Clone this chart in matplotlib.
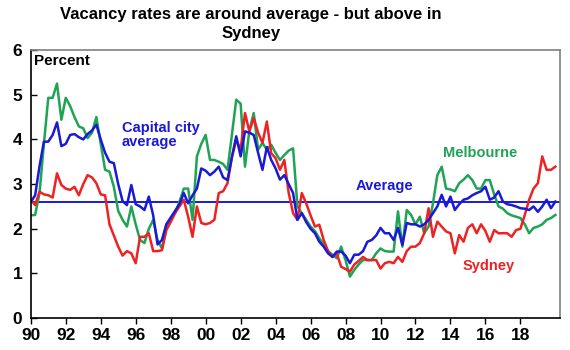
import numpy as np
import matplotlib
matplotlib.use('Agg')
import matplotlib.pyplot as plt

plt.rcParams['font.family'] = ['Liberation Sans', 'DejaVu Sans']

# quarterly, 1990 Q1 .. 2020 Q1
quarters = np.arange(1990, 2020.01, 0.25)

capital_avg = [
    2.60, 2.75, 3.40, 3.95, 3.95, 4.10, 4.38, 3.85, 3.90, 4.10, 4.12, 4.05,
    4.00, 4.12, 4.20, 4.33, 4.00, 3.70, 3.50, 3.47, 3.00, 2.62, 2.53, 2.98,
    2.55, 2.50, 2.42, 2.72, 2.30, 1.65, 1.75, 2.10, 2.25, 2.40, 2.55, 2.80,
    2.57, 2.75, 2.90, 3.35, 3.30, 3.20, 3.28, 3.39, 3.15, 3.09, 3.60, 4.07,
    3.62, 4.18, 4.15, 4.10, 3.70, 3.32, 3.83, 3.54, 3.35, 3.10, 3.20, 3.00,
    2.80, 2.20, 2.35, 2.15, 2.00, 1.90, 1.71, 1.60, 1.45, 1.37, 1.49, 1.49,
    1.40, 1.23, 1.42, 1.42, 1.50, 1.71, 1.75, 1.85, 2.02, 1.90, 1.90, 1.75,
    2.02, 1.64, 2.13, 2.10, 2.10, 2.05, 2.10, 2.20, 2.35, 2.50, 2.76, 2.50,
    2.72, 2.42, 2.55, 2.65, 2.68, 2.75, 2.80, 2.84, 2.94, 2.65, 2.70, 2.84,
    2.61, 2.55, 2.53, 2.50, 2.46, 2.45, 2.42, 2.50, 2.38, 2.50, 2.65, 2.46,
    2.61]

melbourne = [
    2.30, 2.31, 2.80, 3.90, 4.93, 4.93, 5.25, 4.44, 4.93, 4.75, 4.50, 4.29,
    4.25, 4.03, 4.15, 4.50, 3.90, 3.32, 3.28, 2.94, 2.40, 2.20, 2.05, 2.50,
    2.10, 1.75, 1.68, 2.00, 2.20, 1.75, 1.56, 2.00, 2.20, 2.35, 2.60, 2.90,
    2.90, 2.20, 3.62, 3.90, 4.10, 3.54, 3.54, 3.50, 3.45, 3.32, 4.10, 4.89,
    4.80, 3.39, 4.20, 4.59, 3.77, 3.92, 3.77, 3.88, 3.70, 3.54, 3.65, 3.75,
    3.80, 2.50, 2.35, 2.20, 2.05, 1.95, 1.79, 1.65, 1.50, 1.42, 1.34, 1.60,
    1.30, 0.93, 1.08, 1.20, 1.30, 1.30, 1.30, 1.45, 1.56, 1.50, 1.49, 1.49,
    2.39, 1.60, 2.42, 2.31, 2.10, 2.27, 1.90, 2.05, 2.57, 3.20, 3.39, 2.90,
    2.88, 2.84, 3.02, 3.10, 3.20, 3.09, 2.90, 2.90, 3.09, 3.09, 2.77, 2.50,
    2.45, 2.35, 2.30, 2.27, 2.24, 2.10, 1.90, 2.02, 2.05, 2.10, 2.20, 2.24,
    2.31]

sydney = [
    2.65, 2.53, 2.83, 2.77, 2.75, 2.70, 3.24, 2.98, 2.90, 2.87, 2.94, 2.75,
    3.00, 3.20, 3.15, 3.02, 2.77, 2.75, 2.10, 1.85, 1.60, 1.40, 1.50, 1.45,
    1.23, 1.82, 1.82, 1.90, 1.50, 1.50, 1.52, 1.97, 2.15, 2.35, 2.50, 2.65,
    2.27, 1.82, 2.50, 2.13, 2.10, 2.13, 2.20, 2.80, 2.84, 3.02, 3.60, 3.99,
    3.77, 4.59, 4.18, 4.48, 4.15, 3.92, 4.40, 3.69, 3.58, 3.32, 3.54, 2.80,
    2.35, 2.20, 2.80, 2.57, 2.30, 2.05, 2.09, 1.75, 1.50, 1.37, 1.45, 1.15,
    1.10, 1.04, 1.20, 1.28, 1.37, 1.30, 1.30, 1.30, 1.11, 1.23, 1.26, 1.23,
    1.37, 1.26, 1.50, 1.60, 1.60, 1.68, 1.90, 2.46, 1.82, 2.16, 2.05, 1.94,
    1.90, 1.45, 1.86, 1.71, 2.02, 2.10, 1.90, 2.10, 1.95, 1.71, 1.97, 1.90,
    1.90, 1.90, 1.82, 1.97, 2.00, 2.31, 2.65, 2.90, 3.02, 3.62, 3.32, 3.32,
    3.39]

long_run_avg = 2.6

tick_years = list(range(1990, 2019, 2))
tick_labels = ['90', '92', '94', '96', '98', '00', '02', '04', '06', '08',
               '10', '12', '14', '16', '18']

blue = '#1a1ad6'
green = '#1fa354'
red = '#ee2222'

fig = plt.figure(figsize=(5.7, 3.5), dpi=100)
ax = fig.add_axes([0.054, 0.091, 0.928, 0.766])

ax.axhline(long_run_avg, color=blue, linewidth=1.4)
ax.plot(quarters, melbourne, color=green, linewidth=1.8)
ax.plot(quarters, sydney, color=red, linewidth=1.8)
ax.plot(quarters, capital_avg, color=blue, linewidth=1.8)

ax.set_xlim(1990, 2020.25)
ax.set_ylim(0, 6)
ax.set_xticks(tick_years)
ax.set_xticklabels(tick_labels)
ax.set_yticks(range(0, 7))
for lab in ax.get_xticklabels() + ax.get_yticklabels():
    lab.set_fontweight('bold')
    lab.set_fontsize(12.5)
ax.tick_params(axis='y', direction='in', length=4, width=1, pad=6)
ax.tick_params(axis='x', direction='out', length=4, width=1, pad=3)

ax.spines['left'].set_color('black')
ax.spines['bottom'].set_color('black')
ax.spines['top'].set_color('#808080')
ax.spines['right'].set_color('#808080')
for s in ax.spines.values():
    s.set_linewidth(1.2)

ax.text(0.006, 0.985, 'Percent', transform=ax.transAxes, ha='left', va='top',
        fontsize=11, fontweight='bold', color='black')
ax.text(1995.2, 4.1, 'Capital city\naverage', ha='left', va='center',
        fontsize=10.5, fontweight='bold', color=blue, linespacing=1.0)
ax.text(2010.2, 2.95, 'Average', ha='center', va='center',
        fontsize=10.5, fontweight='bold', color=blue)
ax.text(2015.7, 3.7, 'Melbourne', ha='center', va='center',
        fontsize=10.5, fontweight='bold', color=green)
ax.text(2016.2, 1.17, 'Sydney', ha='center', va='center',
        fontsize=10.5, fontweight='bold', color=red)

fig.suptitle('Vacancy rates are around average - but above in\nSydney',
             x=0.44, y=0.98, fontsize=12, fontweight='bold', linespacing=1.3)

fig.savefig('out.png', dpi=100)
